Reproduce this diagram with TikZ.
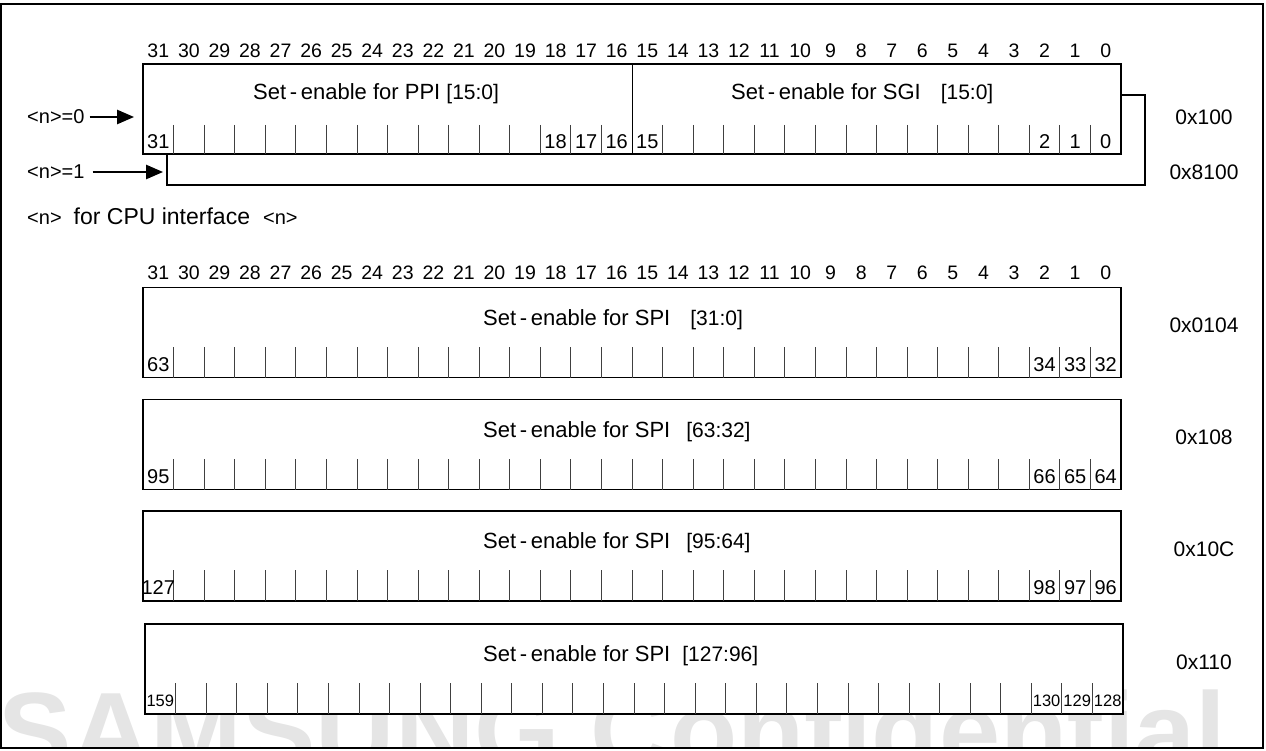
\documentclass[tikz,border=0pt]{standalone}
\usepackage{fontspec}
\setmainfont{Liberation Sans}
\usetikzlibrary{arrows.meta,positioning}
\newcommand{\rngfont}{\fontsize{21}{21}\selectfont}
\newcommand{\nfont}{\fontsize{20}{20}\selectfont}
\tikzset{
    reg/.style ={draw, line width=1.8pt, fill=white, minimum width=978pt, minimum height=90pt, inner sep=0pt},
    tick/.style ={line width=0.8pt, black!75},
    bit/.style ={font=\fontsize{19.5}{19.5}\selectfont, inner sep=0pt},
    ttl/.style ={font=\fontsize{22}{22}\selectfont, anchor=west, inner sep=0pt},
    lbl/.style ={font=\fontsize{20}{20}\selectfont, inner sep=0pt},
    ptr/.style ={-{Triangle[length=17pt,width=14pt]}, line width=2.4pt},
    wm/.style ={font=\fontsize{110}{110}\selectfont\bfseries, text=black!10, anchor=base west, inner sep=0pt}
}

\begin{document}
\begin{tikzpicture}[x=1pt,y=-1pt]
  \useasboundingbox (0,0) rectangle (1266,751);
  \begin{scope}
    \clip (1,4) rectangle (1263,748);
    \node[wm] (wm) at (-2,769) {SAMSUNG Confidential};
  \end{scope}
  \draw[line width=2pt] (1,4) rectangle (1263,748);

  \foreach \r in {51,273}
    \foreach \bitno in {0,...,31}
      \node[bit] (b\r-\bitno) at ({143+(31.5-\bitno)*30.5625},\r) {\bitno};

  \node[reg] (reg1) at (656,140) {};
  \node[reg] (reg0) at (632,109) {};
  \draw[line width=1pt] (reg0.north) -- (reg0.south);
  \foreach \i in {1,...,15,17,18,...,31}
    \draw[tick] ({143+\i*30.5625},125) -- ({143+\i*30.5625},154);
  \node[ttl] (ppi) at (253,94) {Set\thinspace-\thinspace enable for PPI {\rngfont[15:0]}};
  \node[ttl] (sgi) at (731,94) {Set\thinspace-\thinspace enable for SGI\hspace{20pt}{\rngfont[15:0]}};
  \foreach \i/\t in {0/31,13/18,14/17,15/16,16/15,29/2,30/1,31/0}
    \node[lbl] (c\i) at ({143+(\i+0.5)*30.5625},142) {\t};
  \node[lbl, font=\fontsize{21}{21}\selectfont] (a0) at (1204,117) {0x100};
  \node[lbl, font=\fontsize{21}{21}\selectfont] (a1) at (1204,172) {0x8100};

  \node[lbl, anchor=west] (n0) at (27,117) {<n>=0};
  \node[lbl, anchor=west] (n1) at (27,172) {<n>=1};
  \draw[ptr, shorten <=5pt, shorten >=8pt] (n0.east) -- (n0.east -| reg0.west);
  \draw[ptr, shorten <=8pt, shorten >=3pt] (n1.east) -- (n1.east -| reg1.west);
  \node[lbl, anchor=west, font=\fontsize{23}{23}\selectfont] (cpu) at (27,216)
    {{\nfont<n>}\hspace{12pt}for CPU interface\hspace{13pt}{\nfont<n>}};

  \foreach \n/\cy/\dx/\rng/\g/\lo/\hc/\hb/\ha/\adr/\fs in {
      a/332.5/0/31:0/20/63/34/33/32/0x0104/20,
      b/444.5/0/63:32/16/95/66/65/64/0x108/20,
      c/556/0/95:64/16/127/98/97/96/0x10C/20,
      d/669/2/127:96/12/159/130/129/128/0x110/16.5}{
    \node[reg] (spi\n) at ({632+\dx},\cy) {};
    \foreach \i in {1,...,31}
      \draw[tick] ({143+\dx+\i*30.5625},{\cy+45}) -- ({143+\dx+\i*30.5625},{\cy+14});
    \node[ttl] (t\n) at (483,{\cy-13}) {Set\thinspace-\thinspace enable for SPI\hspace{\g pt}{\rngfont[\rng]}};
    \foreach \i/\t in {0/\lo,29/\hc,30/\hb,31/\ha}
      \node[lbl, font=\fontsize{\fs}{\fs}\selectfont] (\n\i) at ({143+\dx+(\i+0.5)*30.5625},{\cy+32}) {\t};
    \node[lbl, font=\fontsize{21}{21}\selectfont] (adr\n) at (1204,{\cy-7}) {\adr};
  }
\end{tikzpicture}
\end{document}
